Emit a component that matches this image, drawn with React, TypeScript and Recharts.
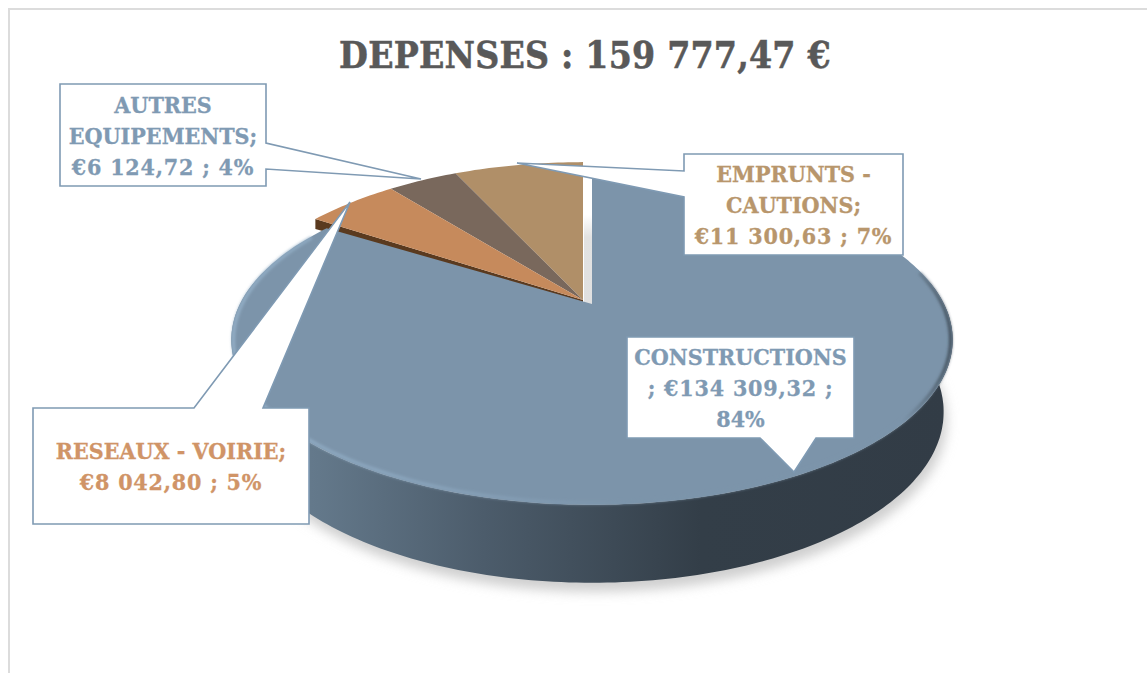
import { Pie, PieChart } from "recharts";

const TITLE = "DEPENSES : 159 777,47 €";

// drawn counter-clockwise from 12 o'clock, so CONSTRUCTIONS paints last, on top
const categories = ["EMPRUNTS - CAUTIONS", "AUTRES EQUIPEMENTS", "RESEAUX - VOIRIE", "CONSTRUCTIONS"];
const amounts = [11300.63, 6124.72, 8042.8, 134309.32];
const sliceColors = ["#b08f68", "#79685c", "#c68a5c", "#7c94aa"];

const labelLines = [
  ["EMPRUNTS -", "CAUTIONS;", "€11 300,63 ; 7%"],
  ["AUTRES", "EQUIPEMENTS;", "€6 124,72 ; 4%"],
  ["RESEAUX - VOIRIE;", "€8 042,80 ; 5%"],
  ["CONSTRUCTIONS", "; €134 309,32 ;", "84%"],
];
const labelColors = ["#b8966c", "#7f9ab3", "#d09467", "#7f9ab3"];

const pieData = categories.map((name, i) => ({ name, value: amounts[i], fill: sliceColors[i] }));

// x, y, w, h of the box, and its outline with the pointer in it
const callouts = [
  {
    box: [684, 154, 219, 101],
    outline: [[684, 154], [903, 154], [903, 255], [684, 255], [684, 197], [517, 163], [684, 171]],
  },
  {
    box: [60, 84, 206, 102],
    outline: [[60, 84], [266, 84], [266, 143], [421, 179], [266, 169], [266, 186], [60, 186]],
  },
  {
    box: [33, 408, 276, 116],
    outline: [[33, 408], [194, 408], [350, 202], [263, 408], [309, 408], [309, 524], [33, 524]],
  },
  {
    box: [627, 337, 227, 101],
    outline: [[627, 337], [854, 337], [854, 438], [816, 438], [794, 472], [760, 438], [627, 438]],
  },
];

// perspective of the disc
const TILT = 0.218;
const RAD = Math.PI / 180;

const project = (deg: number, x0: number, y0: number, a: number, b: number) => {
  const u = Math.cos(deg * RAD);
  const v = Math.sin(deg * RAD);
  const w = 1 + TILT * v;
  return [x0 + (a * u) / w, y0 - (b * v) / w];
};

const arcPoints = (from: number, to: number, x0: number, y0: number, a: number, b: number) => {
  const pts: number[][] = [];
  const steps = Math.max(2, Math.ceil(Math.abs(to - from)));
  for (let i = 0; i <= steps; i++) {
    pts.push(project(from + ((to - from) * i) / steps, x0, y0, a, b));
  }
  return pts;
};

const toPath = (pts: number[][], close = true) =>
  "M" + pts.map((p) => `${p[0].toFixed(1)},${p[1].toFixed(1)}`).join("L") + (close ? "Z" : "");

const PieSlice = (props: any) => {
  const { cx, cy, outerRadius, startAngle, endAngle, fill, name } = props;

  if (name !== "CONSTRUCTIONS") {
    const arc = arcPoints(startAngle, endAngle, cx, cy, outerRadius, outerRadius * 0.473);
    const top = [[cx, cy], ...arc];
    const last = arc[arc.length - 1];
    return (
      <g>
        {name === "RESEAUX - VOIRIE" && (
          <path
            d={toPath([[cx, cy], last, [last[0], last[1] + 10], [cx, cy + 4]])}
            fill="#5a3a1f"
          />
        )}
        <path d={toPath(top)} fill={fill} />
      </g>
    );
  }

  // exploded slice: pushed forward, with its wall and shadow
  const x0 = cx + 9;
  const y0 = cy + 4;
  const a = outerRadius - 3;
  const b = 157;
  const arc = arcPoints(startAngle, endAngle, x0, y0, a, b);
  const frontTop = arcPoints(172, 368, x0, y0, a, b);
  const lower = (p: number[]) => [x0 + (p[0] - x0) * 0.975, 412 + ((p[1] - 340) * 171) / 165];
  const frontBottom = frontTop.map(lower);
  const wall = [...frontTop, ...[...frontBottom].reverse()];
  const shadow = frontBottom.map((p) => [p[0] + 3, p[1] + 9]);

  return (
    <g>
      <defs>
        <linearGradient id="wallFill" gradientUnits="userSpaceOnUse" x1="232" y1="0" x2="953" y2="0">
          <stop offset="0" stopColor="#6d8397" />
          <stop offset="0.12" stopColor="#63788a" />
          <stop offset="0.35" stopColor="#4c5c6b" />
          <stop offset="0.65" stopColor="#333e48" />
          <stop offset="1" stopColor="#323c46" />
        </linearGradient>
        <linearGradient id="rimStroke" gradientUnits="userSpaceOnUse" x1="232" y1="0" x2="953" y2="0">
          <stop offset="0" stopColor="#95b1c9" />
          <stop offset="0.25" stopColor="#8ba6be" />
          <stop offset="0.55" stopColor="#7c94aa" />
          <stop offset="0.93" stopColor="#7c94aa" />
          <stop offset="1" stopColor="#3a4650" />
        </linearGradient>
        <linearGradient id="gapFill" gradientUnits="userSpaceOnUse" x1="0" y1="215" x2="0" y2="304">
          <stop offset="0" stopColor="#ffffff" />
          <stop offset="0.25" stopColor="#e2e2e2" />
          <stop offset="1" stopColor="#e0e0e0" />
        </linearGradient>
        <filter id="softShadow" x="-10%" y="-20%" width="120%" height="150%">
          <feGaussianBlur stdDeviation="6" />
        </filter>
        <filter id="softRim" x="-5%" y="-5%" width="110%" height="110%">
          <feGaussianBlur stdDeviation="1.6" />
        </filter>
      </defs>
      <path d={toPath(shadow)} fill="#cfcfcf" filter="url(#softShadow)" />
      <rect x={cx + 1} y={200} width={8} height={y0 - 200} fill="url(#gapFill)" />
      <path d={toPath(wall)} fill="url(#wallFill)" />
      <path d={toPath([[x0, y0], ...arc])} fill={fill} />
      <path
        d={toPath(arcPoints(152, 372, x0, y0, a - 2, b - 1.5), false)}
        fill="none"
        stroke="url(#rimStroke)"
        strokeWidth={3}
        filter="url(#softRim)"
      />
    </g>
  );
};

const serif = '"DejaVu Serif Condensed", "DejaVu Serif", serif';

export default function App() {
  return (
    <div
      style={{
        position: "absolute",
        left: 0,
        top: 0,
        width: 1147,
        height: 673,
        overflow: "hidden",
        background: "#fff",
      }}
    >
      <div
        style={{
          position: "absolute",
          left: 8,
          top: 8,
          width: 1139,
          height: 665,
          borderLeft: "2px solid #dcdcdc",
          borderTop: "2px solid #dcdcdc",
          boxSizing: "border-box",
        }}
      />
      <div style={{ position: "absolute", left: 0, top: 0 }}>
        <PieChart width={1147} height={673} margin={{ top: 0, right: 0, bottom: 0, left: 0 }}>
          <Pie
            data={pieData}
            dataKey="value"
            nameKey="name"
            cx={583}
            cy={300}
            outerRadius={355}
            startAngle={90}
            endAngle={450}
            stroke="none"
            shape={PieSlice}
            isAnimationActive={false}
          />
        </PieChart>
      </div>
      <svg width={1147} height={673} style={{ position: "absolute", left: 0, top: 0 }}>
        {callouts.map((c, i) => (
          <path key={categories[i]} d={toPath(c.outline)} fill="#fff" stroke="#7f9ab3" strokeWidth={1.6} />
        ))}
      </svg>
      <div
        style={{
          position: "absolute",
          left: 285,
          top: 26,
          width: 600,
          textAlign: "center",
          fontFamily: serif,
          fontStretch: "condensed",
          fontWeight: 700,
          fontSize: 37,
          letterSpacing: 0.2,
          lineHeight: "58px",
          color: "#595959",
          WebkitTextStroke: "0.5px #595959",
        }}
      >
        {TITLE}
      </div>
      {callouts.map((c, i) => {
        const [x, y, w, h] = c.box;
        return (
          <div
            key={categories[i]}
            style={{
              position: "absolute",
              left: x,
              top: y,
              width: w,
              height: h,
              display: "flex",
              flexDirection: "column",
              justifyContent: "center",
              alignItems: "center",
              fontFamily: serif,
              fontStretch: "condensed",
              fontWeight: 700,
              fontSize: 23,
              lineHeight: "31px",
              color: labelColors[i],
              WebkitTextStroke: `0.3px ${labelColors[i]}`,
              whiteSpace: "nowrap",
            }}
          >
            {labelLines[i].map((line) => (
              // the amount lines run wider in the original face
              <div key={line} style={{ letterSpacing: /\d{2}/.test(line) && line.length > 4 ? 0.8 : 0 }}>
                {line}
              </div>
            ))}
          </div>
        );
      })}
    </div>
  );
}
